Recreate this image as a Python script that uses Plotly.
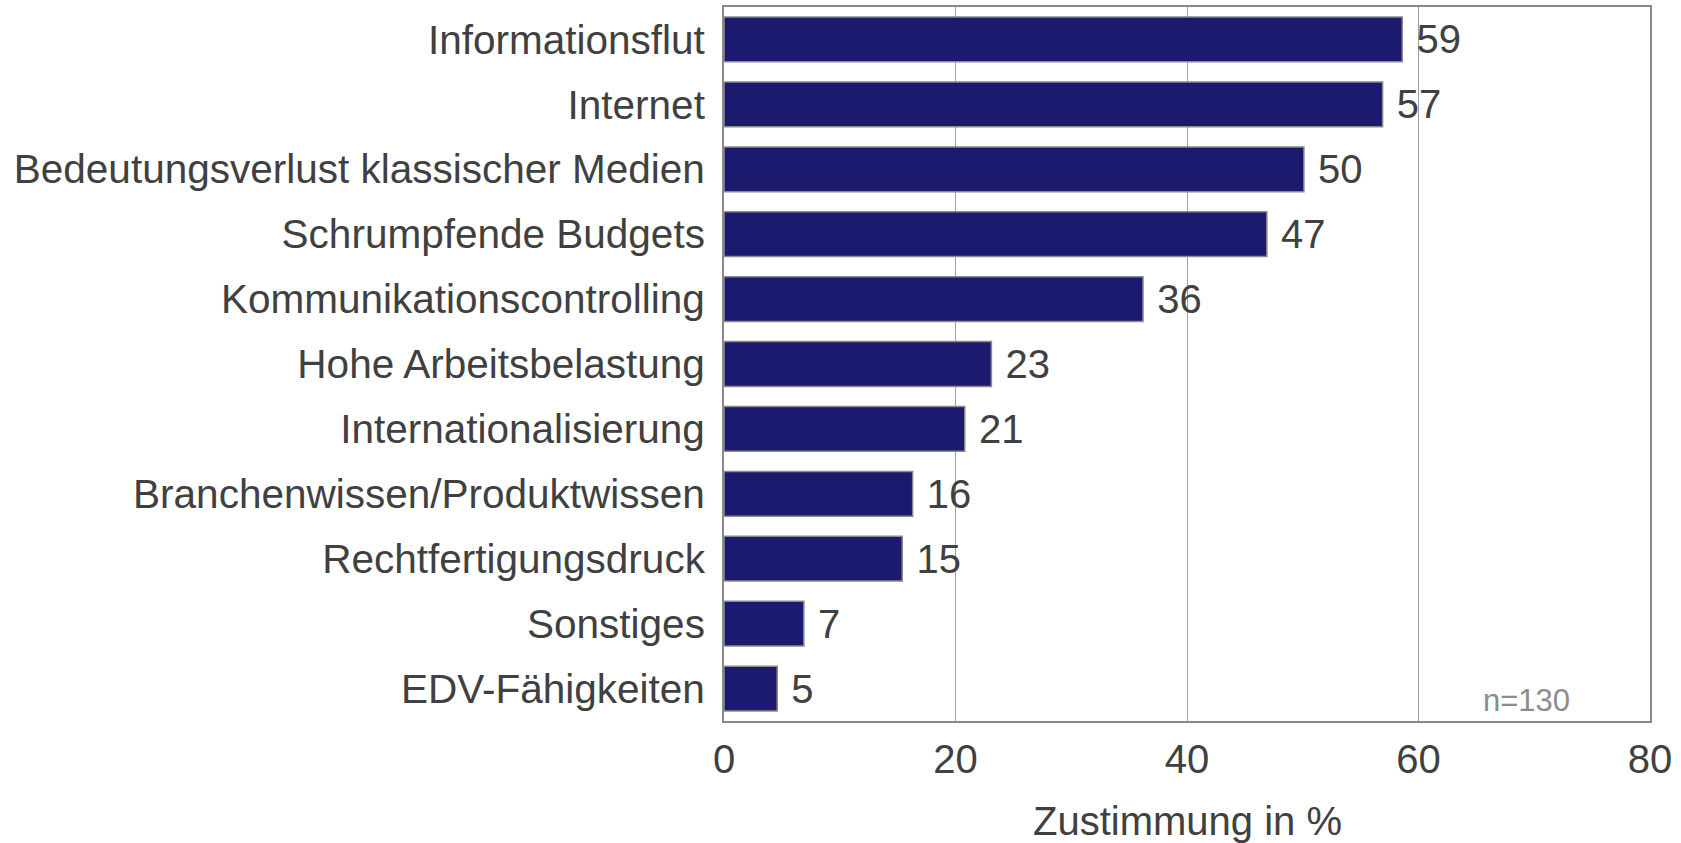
import plotly.graph_objects as go

categories = [
    "Informationsflut",
    "Internet",
    "Bedeutungsverlust klassischer Medien",
    "Schrumpfende Budgets",
    "Kommunikationscontrolling",
    "Hohe Arbeitsbelastung",
    "Internationalisierung",
    "Branchenwissen/Produktwissen",
    "Rechtfertigungsdruck",
    "Sonstiges",
    "EDV-Fähigkeiten",
]
values = [58.6, 56.9, 50.1, 46.9, 36.2, 23.1, 20.8, 16.3, 15.4, 6.9, 4.6]
labels = ["59", "57", "50", "47", "36", "23", "21", "16", "15", "7", "5"]

font_family = "Arial, Liberation Sans, sans-serif"
text_color = "#404040"
fs = 40

fig = go.Figure()
fig.add_trace(go.Bar(
    x=values,
    y=categories,
    orientation="h",
    text=labels,
    texttemplate=" %{text}",
    textposition="outside",
    textfont=dict(size=fs, color=text_color, family=font_family),
    cliponaxis=False,
    marker=dict(color="#1b1a6e", line=dict(color="#8a8a8a", width=1.5)),
))

fig.add_annotation(
    text="n=130",
    x=69.3, y=0, xref="x", yref="paper",
    xanchor="center", yanchor="bottom", yshift=1,
    showarrow=False,
    font=dict(size=31, color="#8c8c8c", family=font_family),
)

# axis title as annotation, the real title gets squeezed into the margin
fig.add_annotation(
    text="Zustimmung in %",
    x=0.5, y=0, xref="paper", yref="paper",
    xanchor="center", yanchor="middle", yshift=-100,
    showarrow=False,
    font=dict(size=fs, color=text_color, family=font_family),
)

fig.update_layout(
    width=1681,
    height=843,
    margin=dict(l=724, r=31, t=7, b=122, autoexpand=False),
    paper_bgcolor="white",
    plot_bgcolor="white",
    bargap=0.31,
    showlegend=False,
    font=dict(family=font_family, size=fs, color=text_color),
    xaxis=dict(
        range=[0, 80],
        tickvals=[0, 20, 40, 60, 80],
        showgrid=True,
        gridcolor="#a0a0a0",
        gridwidth=1,
        zeroline=False,
        showline=True,
        linecolor="#8a8a8a",
        linewidth=2,
        mirror=True,
        ticks="",
        automargin=False,
        ticklabelstandoff=2,
        tickfont=dict(size=fs, color=text_color),
    ),
    yaxis=dict(
        categoryorder="array",
        categoryarray=categories[::-1],
        showgrid=False,
        zeroline=False,
        showline=True,
        linecolor="#8a8a8a",
        linewidth=2,
        mirror=True,
        ticks="",
        automargin=False,
        ticklabelstandoff=9,
        tickfont=dict(size=40.5, color=text_color),
    ),
)

# drop the default 8px body margin so the figure fills the window exactly
fig.write_html(
    "out.html",
    config={"displayModeBar": False},
    post_script="document.body.style.margin = '0px';",
)
